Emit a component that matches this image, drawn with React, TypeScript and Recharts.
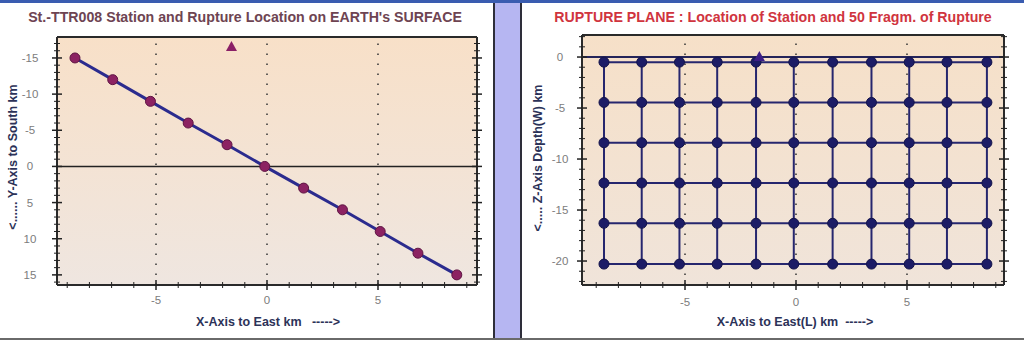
import React from "react";
import { ScatterChart, Scatter, XAxis, YAxis, CartesianGrid, ReferenceLine } from "recharts";

// surface trace of the rupture (km)
const surfX = [-8.65, -6.95, -5.25, -3.55, -1.8, -0.1, 1.65, 3.4, 5.1, 6.8, 8.55];
const surfY = [-15, -12, -9, -6, -3, 0, 3, 6, 9, 12, 15];
const surfStation = [{ x: -1.6, y: -16.5 }];

// rupture plane nodes: along strike (L) and depth (W)
const planeX = [-8.65, -6.95, -5.25, -3.55, -1.8, -0.1, 1.65, 3.4, 5.1, 6.8, 8.6];
const planeZ = [-0.5, -4.45, -8.4, -12.35, -16.3, -20.3];
const planeStation = [{ x: -1.65, z: 0 }];

// labelled ticks
const majorX = [-5, 0, 5];
const majorSurfY = [-15, -10, -5, 0, 5, 10, 15];
const majorZ = [0, -5, -10, -15, -20];

const FONT = "'Liberation Sans', Arial, sans-serif";

const range = (a: number, b: number) => {
  const out: number[] = [];
  for (let i = a; i <= b; i++) out.push(i);
  return out;
};

const makeTick = (side: string, majors: number[], off: number) => (props: any) => {
  const { x, y, payload } = props;
  const major = majors.includes(payload.value);
  const h = major ? 5 : 3;
  const w = major ? 1.5 : 1;
  const vertical = side === "bottom" || side === "top";
  return (
    <g>
      {vertical ? (
        <line x1={x} x2={x} y1={y - h} y2={y + h} stroke="#222" strokeWidth={w} />
      ) : (
        <line x1={x - h} x2={x + h} y1={y} y2={y} stroke="#222" strokeWidth={w} />
      )}
      {major && side === "bottom" && (
        <text x={x} y={y + off} textAnchor="middle" fontSize={11.5} fill="#7c7c7c" fontFamily={FONT}>
          {payload.value}
        </text>
      )}
      {major && side === "left" && (
        <text x={x - off} y={y + 4} textAnchor="middle" fontSize={11.5} fill="#7c7c7c" fontFamily={FONT}>
          {payload.value}
        </text>
      )}
    </g>
  );
};

const Dot = (color: string, stroke: string) => (p: any) =>
  <circle cx={p.cx} cy={p.cy} r={5} fill={color} stroke={stroke} strokeWidth={1} />;

const Tri = (color: string) => (p: any) =>
  <polygon points={`${p.cx},${p.cy - 6} ${p.cx - 5.5},${p.cy + 4} ${p.cx + 5.5},${p.cy + 4}`} fill={color} />;

const NoShape = () => <g />;

const axisLine = { stroke: "#2a2a2a", strokeWidth: 2 };
const dotted = { stroke: "#333", strokeDasharray: "1.5 8.5", strokeWidth: 1.5 };

function Gradient({ id, top, bottom }: { id: string; top: string; bottom: string }) {
  return (
    <defs>
      <linearGradient id={id} x1="0" y1="0" x2="0" y2="1">
        <stop offset="0%" stopColor={top} />
        <stop offset="100%" stopColor={bottom} />
      </linearGradient>
    </defs>
  );
}

function SurfaceChart() {
  const xDom = [-9.46, 9.46];
  const yDom = [-17.9, 16.4];
  const pts = surfX.map((x, i) => ({ x, y: surfY[i] }));
  return (
    <ScatterChart width={494} height={340} margin={{ top: 32, right: 12, bottom: 25, left: 0 }}>
      <Gradient id="bgSurf" top="#f8e0c8" bottom="#efe6e0" />
      <CartesianGrid xAxisId="b" yAxisId="l" horizontal={false} vertical={false} fill="url(#bgSurf)" />
      <XAxis xAxisId="b" type="number" dataKey="x" domain={xDom} allowDataOverflow ticks={range(-9, 9)}
        height={30} tickSize={0} tickMargin={0} tickLine={false} axisLine={axisLine}
        tick={makeTick("bottom", majorX, 19)} interval={0} />
      <XAxis xAxisId="t" orientation="top" type="number" domain={xDom} allowDataOverflow ticks={range(-9, 9)}
        height={5} tickSize={0} tickMargin={0} tickLine={false} axisLine={axisLine}
        tick={makeTick("top", majorX, 0)} interval={0} />
      <YAxis yAxisId="l" type="number" dataKey="y" reversed domain={yDom} allowDataOverflow ticks={range(-17, 16)}
        width={57} tickSize={0} tickMargin={0} tickLine={false} axisLine={axisLine}
        tick={makeTick("left", majorSurfY, 27)} interval={0} />
      <YAxis yAxisId="r" orientation="right" type="number" reversed domain={yDom} allowDataOverflow ticks={range(-17, 16)}
        width={5} tickSize={0} tickMargin={0} tickLine={false} axisLine={axisLine}
        tick={makeTick("right", majorSurfY, 0)} interval={0} />
      {majorX.map((v) => (
        <ReferenceLine key={v} xAxisId="b" yAxisId="l" x={v} {...dotted} />
      ))}
      <ReferenceLine xAxisId="b" yAxisId="l" y={0} stroke="#222" strokeWidth={1.5} />
      <Scatter xAxisId="b" yAxisId="l" data={pts} line={{ stroke: "#2b2b8e", strokeWidth: 3 }}
        shape={Dot("#8c2262", "#5e1442")} isAnimationActive={false} />
      <Scatter xAxisId="b" yAxisId="l" data={surfStation} shape={Tri("#8a1f66")} isAnimationActive={false} />
    </ScatterChart>
  );
}

function PlaneChart() {
  const xDom = [-9.64, 9.37];
  const zDom = [-22.35, 2.16];
  return (
    <ScatterChart width={502} height={340} margin={{ top: 30, right: 15, bottom: 25, left: 0 }}>
      <Gradient id="bgPlane" top="#f6e0c8" bottom="#f0e4da" />
      <CartesianGrid xAxisId="b" yAxisId="l" horizontal={false} vertical={false} fill="url(#bgPlane)" />
      <XAxis xAxisId="b" type="number" dataKey="x" domain={xDom} allowDataOverflow ticks={range(-9, 9)}
        height={30} tickSize={0} tickMargin={0} tickLine={false} axisLine={axisLine}
        tick={makeTick("bottom", majorX, 21)} interval={0} />
      <XAxis xAxisId="t" orientation="top" type="number" domain={xDom} allowDataOverflow ticks={range(-9, 9)}
        height={5} tickSize={0} tickMargin={0} tickLine={false} axisLine={axisLine}
        tick={makeTick("top", majorX, 0)} interval={0} />
      <YAxis yAxisId="l" type="number" dataKey="z" domain={zDom} allowDataOverflow ticks={range(-22, 2)}
        width={60} tickSize={0} tickMargin={0} tickLine={false} axisLine={axisLine}
        tick={makeTick("left", majorZ, 22)} interval={0} />
      <YAxis yAxisId="r" orientation="right" type="number" domain={zDom} allowDataOverflow ticks={range(-22, 2)}
        width={5} tickSize={0} tickMargin={0} tickLine={false} axisLine={axisLine}
        tick={makeTick("right", majorZ, 0)} interval={0} />
      {majorX.map((v) => (
        <ReferenceLine key={v} xAxisId="b" yAxisId="l" x={v} {...dotted} />
      ))}
      <ReferenceLine xAxisId="b" yAxisId="l" y={0} stroke="#24245a" strokeWidth={2} />
      {planeX.map((x) => (
        <Scatter key={"c" + x} xAxisId="b" yAxisId="l" data={planeZ.map((z) => ({ x, z }))}
          line={{ stroke: "#26266e", strokeWidth: 2 }} shape={NoShape} isAnimationActive={false} />
      ))}
      {planeZ.map((z) => (
        <Scatter key={"r" + z} xAxisId="b" yAxisId="l" data={planeX.map((x) => ({ x, z }))}
          line={{ stroke: "#26266e", strokeWidth: 2 }} shape={Dot("#1c1c66", "#14144a")} isAnimationActive={false} />
      ))}
      <Scatter xAxisId="b" yAxisId="l" data={planeStation} shape={Tri("#3c1e86")} isAnimationActive={false} />
    </ScatterChart>
  );
}

const abs = (s: React.CSSProperties): React.CSSProperties => ({ position: "absolute", ...s });

const titleStyle = (cx: number, color: string): React.CSSProperties =>
  abs({ left: cx - 300, width: 600, top: 10, textAlign: "center", fontSize: 14.2, fontWeight: "bold",
    color, fontFamily: FONT, lineHeight: "15px", whiteSpace: "nowrap" });

const xLabel = (cx: number): React.CSSProperties =>
  abs({ left: cx - 200, width: 400, top: 315, textAlign: "center", fontSize: 12.5, fontWeight: "bold",
    color: "#2c3258", fontFamily: FONT, lineHeight: "15px", whiteSpace: "pre" });

const yLabel = (x: number, cy: number): React.CSSProperties =>
  abs({ left: x, top: cy, transform: "translate(-50%, -50%) rotate(-90deg)", fontSize: 12.5, fontWeight: "bold",
    color: "#2c3258", fontFamily: FONT, lineHeight: "15px", whiteSpace: "pre" });

export default function App() {
  return (
    <div style={abs({ left: 0, top: 0, width: 1024, height: 348, background: "#ffffff", overflow: "hidden" })}>
      <div style={abs({ left: 0, top: 0, width: 1024, height: 3, background: "#3a5cb0" })} />
      <div style={abs({ left: 0, top: 338, width: 1024, height: 2, background: "#6a6a6a" })} />
      <div style={abs({ left: 493, top: 3, width: 2, height: 335, background: "#2e2e3a" })} />
      <div style={abs({ left: 495, top: 3, width: 25, height: 335, background: "#b6b6f2" })} />
      <div style={abs({ left: 520, top: 3, width: 2, height: 335, background: "#2e2e3a" })} />

      <div style={abs({ left: 0, top: 0 })}>
        <SurfaceChart />
      </div>
      <div style={abs({ left: 522, top: 0 })}>
        <PlaneChart />
      </div>

      <div style={titleStyle(245, "#6e4452")}>St.-TTR008 Station and Rupture Location on EARTH's SURFACE</div>
      <div style={titleStyle(773, "#d0343e")}>RUPTURE PLANE : Location of Station and 50 Fragm. of Rupture</div>
      <div style={xLabel(268)}>{"X-Axis to East km   ----->"}</div>
      <div style={xLabel(795)}>{"X-Axis to East(L) km  ----->"}</div>
      <div style={yLabel(13, 157)}>{"<...... Y-Axis to South km"}</div>
      <div style={yLabel(538, 158)}>{"<..... Z-Axis Depth(W) km"}</div>
    </div>
  );
}
